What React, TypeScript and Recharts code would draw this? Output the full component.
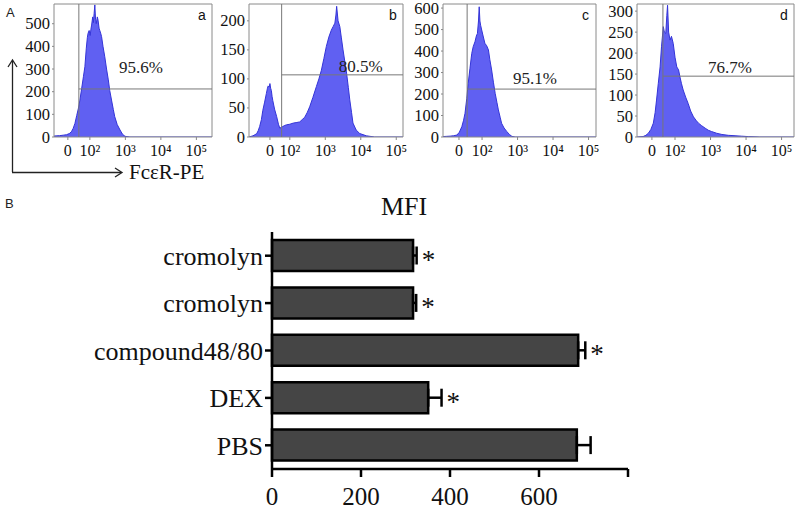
import {
  AreaChart, Area, XAxis, YAxis, ReferenceLine, ReferenceArea, ReferenceDot,
  BarChart, Bar, ErrorBar, LabelList,
} from 'recharts';

const SERIF = '"Liberation Serif", "Times New Roman", serif';
const SANS = '"Liberation Sans", Arial, sans-serif';

// flow histograms, x in log-decades (2 = 10^2), y = event count
const A_T = [0.99, 1.05, 1.15, 1.25, 1.34, 1.42, 1.48, 1.53, 1.58, 1.63, 1.68, 1.72, 1.77, 1.82, 1.86, 1.9, 1.93, 1.95, 1.98, 2.01, 2.03, 2.05, 2.08, 2.1, 2.12, 2.14, 2.16, 2.18, 2.21, 2.23, 2.26, 2.28, 2.31, 2.33, 2.37, 2.42, 2.47, 2.52, 2.56, 2.61, 2.66, 2.7, 2.77, 2.85, 2.92, 2.99, 3.13, 5.44];
const A_COUNT = [4, 5, 6, 8, 10, 15, 23, 38, 60, 95, 128, 163, 215, 268, 310, 392, 440, 458, 470, 448, 476, 494, 530, 505, 545, 583, 520, 500, 530, 516, 480, 470, 455, 443, 400, 354, 300, 252, 205, 163, 122, 90, 55, 31, 12, 3, 0, 0];

const B_T = [0.85, 0.96, 1.02, 1.07, 1.11, 1.15, 1.2, 1.24, 1.29, 1.34, 1.37, 1.39, 1.42, 1.44, 1.46, 1.48, 1.5, 1.52, 1.57, 1.63, 1.68, 1.72, 1.76, 1.8, 1.86, 1.91, 2.0, 2.1, 2.2, 2.28, 2.35, 2.42, 2.49, 2.56, 2.65, 2.75, 2.82, 2.89, 2.96, 3.03, 3.1, 3.17, 3.22, 3.27, 3.3, 3.32, 3.36, 3.41, 3.45, 3.5, 3.55, 3.6, 3.65, 3.69, 3.74, 3.78, 3.87, 3.97, 4.16, 4.39, 5.19];
const B_COUNT = [0, 2, 4, 6, 11, 18, 30, 46, 60, 75, 84, 88, 86, 92, 84, 80, 70, 63, 48, 35, 22, 15, 17, 18, 20, 21, 22, 24, 25, 26, 30, 34, 42, 52, 68, 87, 100, 115, 135, 156, 172, 184, 190, 196, 210, 225, 200, 190, 172, 150, 130, 110, 85, 64, 42, 24, 12, 6, 2, 0, 0];

const C_T = [0.9, 1.0, 1.1, 1.2, 1.29, 1.36, 1.43, 1.48, 1.52, 1.57, 1.61, 1.66, 1.71, 1.75, 1.8, 1.84, 1.87, 1.9, 1.92, 1.94, 1.96, 1.99, 2.03, 2.08, 2.13, 2.18, 2.22, 2.27, 2.32, 2.37, 2.42, 2.46, 2.51, 2.55, 2.62, 2.7, 2.77, 2.84, 2.93, 5.21];
const C_COUNT = [2, 3, 4, 6, 9, 22, 48, 78, 110, 180, 250, 320, 389, 420, 443, 470, 482, 540, 606, 540, 520, 498, 470, 436, 425, 405, 360, 312, 255, 203, 160, 126, 92, 64, 42, 25, 12, 3, 0, 0];

const D_T = [0.93, 1.1, 1.18, 1.25, 1.32, 1.39, 1.44, 1.48, 1.53, 1.58, 1.62, 1.67, 1.7, 1.74, 1.77, 1.79, 1.82, 1.86, 1.9, 1.95, 2.0, 2.05, 2.1, 2.14, 2.18, 2.23, 2.3, 2.37, 2.44, 2.52, 2.59, 2.66, 2.75, 2.85, 2.94, 3.03, 3.17, 3.32, 3.5, 3.69, 3.87, 4.06, 4.39, 5.35];
const D_COUNT = [0, 1, 4, 9, 18, 33, 58, 88, 128, 167, 215, 263, 250, 247, 290, 314, 250, 231, 240, 223, 190, 167, 160, 143, 128, 112, 95, 80, 62, 48, 40, 33, 27, 21, 16, 13, 9, 6, 4, 3, 2, 1, 0, 0];

const PANEL_TAGS = ['a', 'b', 'c', 'd'];
const PANEL_PCT = ['95.6%', '80.5%', '95.1%', '76.7%'];
const GATE_T = [1.69, 1.77, 1.58, 1.66];
const GATE_COUNT = [212, 107, 223, 145];
const PCT_T = [3.44, 4.0, 3.49, 3.55];
const PCT_COUNT = [309, 122, 274, 167];
const Y_MAX = [587, 229, 619, 317];
const Y_TICKS = [[0, 100, 200, 300, 400, 500], [0, 50, 100, 150, 200], [0, 100, 200, 300, 400, 500, 600], [0, 50, 100, 150, 200, 250, 300]];
const X_TICKS = [[1.38, 2, 3, 4, 5], [1.44, 2, 3, 4, 5], [1.35, 2, 3, 4, 5], [1.35, 2, 3, 4, 5]];
const DECADE_LABELS = ['0', '10²', '10³', '10⁴', '10⁵'];

// bar chart
const GROUPS = ['cromolyn', 'cromolyn', 'compound48/80', 'DEX', 'PBS'];
const MFI = [317, 317, 688, 351, 685];
const MFI_SEM = [8, 7, 16, 30, 31];
const SIGNIFICANT = [true, true, true, true, false];
const MFI_TICKS = [0, 200, 400, 600, 800];

const histSeries = [[A_T, A_COUNT], [B_T, B_COUNT], [C_T, C_COUNT], [D_T, D_COUNT]];

// box positions on the page
const BOX = [[54, 212], [249, 403], [443, 596], [637, 794]];
const YAXIS_W = 50;

function DecadeTick(props: any) {
  const { x, y, payload, ticks } = props;
  const label = DECADE_LABELS[ticks.indexOf(payload.value)];
  return (
    <text x={x} y={y + 14} textAnchor="middle" fontFamily={SERIF} fontSize={16} fill="#111">
      {label}
    </text>
  );
}

function CountTick(props: any) {
  const { x, y, payload } = props;
  return (
    <text x={x} y={y + 5.5} textAnchor="end" fontFamily={SERIF} fontSize={16.5} fill="#111">
      {payload.value}
    </text>
  );
}

function Histogram({ i }: { i: number }) {
  const [ts, counts] = histSeries[i];
  const data = ts.map((t, k) => ({ t, n: counts[k] }));
  const [bl, br] = BOX[i];
  const xMin = ts[0];
  const xMax = ts[ts.length - 1];
  const w = br - bl + YAXIS_W + 4;
  return (
    <div style={{ position: 'absolute', left: bl - YAXIS_W, top: 0 }}>
      <AreaChart width={w} height={165} data={data} margin={{ top: 4, right: 4, left: 0, bottom: 0 }}>
        <XAxis
          type="number" dataKey="t" domain={[xMin, xMax]} allowDataOverflow
          ticks={X_TICKS[i]} interval={0}
          axisLine={false} tickLine={{ stroke: '#888' }} tickSize={3} height={28}
          tick={<DecadeTick ticks={X_TICKS[i]} />}
        />
        <YAxis
          type="number" domain={[0, Y_MAX[i]]} allowDataOverflow ticks={Y_TICKS[i]} interval={0}
          axisLine={false} tickLine={{ stroke: '#888' }} tickSize={2} width={YAXIS_W}
          tick={<CountTick />}
        />
        <Area
          type="linear" dataKey="n" fill="#6060f2" fillOpacity={1} stroke="#3434d8" strokeWidth={1}
          isAnimationActive={false} dot={false} activeDot={false}
        />
        <ReferenceArea x1={xMin} x2={xMax} y1={0} y2={Y_MAX[i]} fill="none" stroke="#8a8a8a" strokeWidth={1} />
        <ReferenceLine x={GATE_T[i]} stroke="#777" strokeWidth={1} />
        <ReferenceLine segment={[{ x: GATE_T[i], y: GATE_COUNT[i] }, { x: xMax, y: GATE_COUNT[i] }]} stroke="#777" strokeWidth={1} />
        <ReferenceDot
          x={PCT_T[i]} y={PCT_COUNT[i]} r={0} fill="none" stroke="none"
          label={{ value: PANEL_PCT[i], position: 'center', fontFamily: SERIF, fontSize: 17, fill: '#222' }}
        />
      </AreaChart>
      <div style={{ position: 'absolute', left: w - 18, top: 7, fontFamily: SANS, fontSize: 14, color: '#111' }}>
        {PANEL_TAGS[i]}
      </div>
    </div>
  );
}

const barData = GROUPS.map((g, k) => ({
  id: `g${k}`,
  name: g,
  mfi: MFI[k],
  err: [0, MFI_SEM[k]],
}));

function Star(props: any) {
  const vb = props.viewBox || props;
  const { x, y, width, height } = vb;
  const k = props.index;
  if (k == null || !SIGNIFICANT[k]) return null;
  const end = x + (width * (MFI[k] + MFI_SEM[k])) / MFI[k];
  return (
    <text x={end + 5} y={y + height / 2 + 13} fontFamily={SERIF} fontSize={27} fill="#111">
      *
    </text>
  );
}

export default function App() {
  return (
    <div style={{ position: 'absolute', left: 0, top: 0, width: 800, height: 512, background: '#fff', overflow: 'hidden' }}>
      <svg width={230} height={512} style={{ position: 'absolute', left: 0, top: 0 }}>
        <text x={6} y={17} fontFamily={SANS} fontSize={13} fill="#222">A</text>
        <line x1={12.5} y1={172} x2={12.5} y2={61} stroke="#222" strokeWidth={1.3} />
        <polyline points="8,67 12.5,60 17,67" fill="none" stroke="#222" strokeWidth={1.3} />
        <line x1={12} y1={172.5} x2={121} y2={172.5} stroke="#222" strokeWidth={1.3} />
        <polyline points="115,168 122,172.5 115,177" fill="none" stroke="#222" strokeWidth={1.3} />
        <text x={129} y={179} fontFamily={SERIF} fontSize={21} fill="#111">FcεR-PE</text>
        <text x={5} y={208} fontFamily={SANS} fontSize={13} fill="#222">B</text>
      </svg>
      {[0, 1, 2, 3].map((i) => (
        <Histogram key={i} i={i} />
      ))}
      <div style={{ position: 'absolute', left: 0, top: 187 }}>
        <BarChart
          width={800} height={325} data={barData} layout="vertical"
          margin={{ top: 45, right: 172, left: 0, bottom: 0 }}
        >
          <XAxis
            type="number" domain={[0, 800]} ticks={MFI_TICKS} interval={0} height={43}
            tickFormatter={(v: number) => (v === 800 ? '' : String(v))}
            stroke="#000" strokeWidth={2.5} tickSize={8} tickMargin={10}
            tick={{ fontFamily: SERIF, fontSize: 25, fill: '#111' }}
          />
          <YAxis
            type="category" dataKey="id" width={272} interval={0}
            tickFormatter={(v: string) => GROUPS[Number(v.slice(1))]}
            stroke="#000" strokeWidth={2.5} tickSize={7} tickMargin={2}
            tick={{ fontFamily: SERIF, fontSize: 26, fill: '#111' }}
          />
          <Bar dataKey="mfi" fill="#454545" stroke="#000" strokeWidth={2.5} barSize={31} isAnimationActive={false}>
            <ErrorBar dataKey="err" direction="x" width={9} stroke="#000" strokeWidth={2.5} />
            <LabelList dataKey="mfi" content={<Star />} />
          </Bar>
        </BarChart>
      </div>
      <div style={{ position: 'absolute', left: 404, top: 207, transform: 'translate(-50%, -50%)', fontFamily: SERIF, fontSize: 26, color: '#111' }}>
        MFI
      </div>
    </div>
  );
}
